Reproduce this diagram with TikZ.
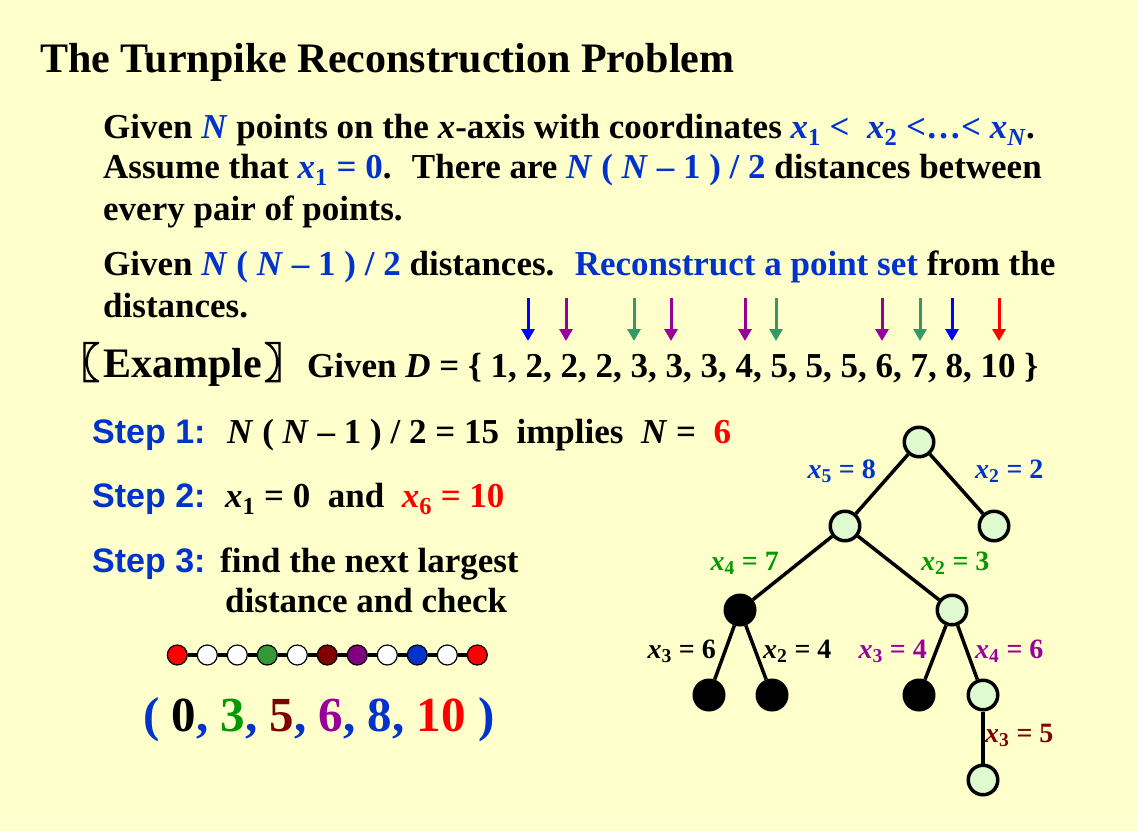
\documentclass[tikz,border=0pt]{standalone}
\usepackage{fontspec}
\setmainfont{Liberation Serif}
\newfontfamily\arialf{Liberation Sans}
\newfontfamily\cjkf[FakeBold=3]{Noto Sans CJK SC}
\usetikzlibrary{arrows.meta}
\definecolor{bg}{RGB}{255,255,204}
\definecolor{tblue}{RGB}{0,51,204}
\definecolor{tgreen}{RGB}{0,153,0}
\definecolor{agreen}{RGB}{51,153,102}
\definecolor{tpurple}{RGB}{153,0,153}
\definecolor{tdred}{RGB}{128,0,0}
\definecolor{tred}{RGB}{255,0,0}
\definecolor{ablue}{RGB}{0,0,255}
\definecolor{dgreen}{RGB}{51,153,51}
\definecolor{dblue}{RGB}{0,51,204}
\definecolor{dpurple}{RGB}{128,0,128}
\definecolor{nodefill}{RGB}{224,250,208}
\newcommand\bl[1]{\textcolor{tblue}{#1}}
\newcommand\sbs[1]{\textsubscript{#1}}
\newcommand\ix{\textit{x}}
\newcommand\iN{\textit{N}}
\begin{document}
\begin{tikzpicture}[x=1pt,y=-1pt,
  txt/.style={anchor=base west,inner sep=0pt,font=\bfseries\fontsize{35}{40}\selectfont},
  steplab/.style={anchor=base west,inner sep=0pt,text=tblue,font=\arialf\bfseries\fontsize{34}{40}\selectfont},
  lab/.style={inner sep=0pt,font=\bfseries\fontsize{28}{32}\selectfont},
  tn/.style={circle,draw=black,line width=3.5pt,fill=nodefill,minimum size=29.5pt,inner sep=0pt},
  bn/.style={tn,fill=black},
  edge/.style={line width=3.5pt,black},
  brk/.style={inner sep=0pt,font=\cjkf\fontsize{42}{46}\selectfont},
  dn/.style={circle,draw=black,line width=1.2pt,minimum size=20pt,inner sep=0pt},
  arr/.style={line width=3pt,-{Triangle[width=13pt,length=12pt]}}]
\useasboundingbox (0,0) rectangle (1137,831);
\fill[bg] (0,0) rectangle (1137,831);

% title
\node[anchor=base west,inner sep=0pt,font=\bfseries\fontsize{42}{48}\selectfont] (title) at (40,72) {The Turnpike Reconstruction Problem};

% body
\node[txt] (l1) at (103,138) {Given \bl{\iN} points on the \ix-axis with coordinates \bl{\ix\sbs{1} <~ \ix\sbs{2} <…< \ix\sbs{\textit{N}}}.};
\node[txt] (l2) at (103,178) {Assume that \bl{\ix\sbs{1} = 0}.~ There are \bl{\iN\ ( \iN\ – 1 ) / 2} distances between};
\node[txt] (l3) at (103,220) {every pair of points.};
\node[txt] (l4) at (103,275) {Given \bl{\iN\ ( \iN\ – 1 ) / 2} distances.~ \bl{Reconstruct a point set} from the};
\node[txt] (l5) at (103,317) {distances.};

% example
\node[brk,anchor=base east] (lb) at (100,378) {〖};
\node[anchor=base west,inner sep=0pt,font=\bfseries\fontsize{42}{46}\selectfont] (ex) at (103,377) {Example};
\node[brk,anchor=base west] (rb) at (264,378) {〗};
\node[txt] (given) at (307,377) {Given \textit{D} = \{ 1, 2, 2, 2, 3, 3, 3, 4, 5, 5, 5, 6, 7, 8, 10 \}};

% arrows
\foreach \i/\xx/\cc in {1/528/ablue,2/566/tpurple,3/634/agreen,4/671/tpurple,5/745/tpurple,6/776/agreen,7/882/tpurple,8/920/agreen,9/952/ablue,10/999/tred}{
  \coordinate (as\i) at (\xx,298);
  \coordinate (ae\i) at (\xx,341);
  \draw[arr,\cc] (as\i) -- (ae\i);
}

% steps
\node[steplab] (s1) at (92,443) {Step 1:};
\node[txt] (s1t) at (227,443) {\iN\ ( \iN\ – 1 ) / 2 = 15 ~implies ~\iN\ = ~\textcolor{tred}{6}};
\node[steplab] (s2) at (92,507) {Step 2:};
\node[txt] (s2t) at (225,507) {\ix\sbs{1} = 0 ~and ~\textcolor{tred}{\ix\sbs{6} = 10}};
\node[steplab] (s3) at (92,572) {Step 3:};
\node[txt] (s3t) at (220,572) {find the next largest};
\node[txt] (s3u) at (225,612) {distance and check};

% dotted line
\foreach \i/\cc in {1/tred,2/white,3/white,4/dgreen,5/white,6/tdred,7/dpurple,8/white,9/dblue,10/white,11/tred}{
  \node[dn,fill=\cc] (d\i) at ({177.3+30*(\i-1)},655) {};
}
\foreach \i [evaluate=\i as \j using int(\i+1)] in {1,...,10}{
  \draw[line width=4pt] (d\i) -- (d\j);
}

% result
\node[anchor=base west,inner sep=0pt,font=\bfseries\fontsize{49}{54}\selectfont] (res) at (143,731)
 {\bl{(} 0\bl{,} \textcolor{tgreen}{3}\bl{,} \textcolor{tdred}{5}\bl{,} \textcolor{tpurple}{6}\bl{,} \bl{8,} \textcolor{tred}{10} \bl{)}};

% tree
\node[tn] (r) at (919,442) {};
\node[tn] (a) at (845,526) {};
\node[tn] (b) at (994,526) {};
\node[bn] (c) at (740,610) {};
\node[tn] (d) at (952,610) {};
\node[bn] (e) at (709,695) {};
\node[bn] (f) at (772,695) {};
\node[bn] (g) at (919,695) {};
\node[tn] (h) at (983,695) {};
\node[tn] (i) at (983,780) {};
\draw[edge] (r) -- (a);
\draw[edge] (r) -- (b);
\draw[edge] (a) -- (c);
\draw[edge] (a) -- (d);
\draw[edge] (c) -- (e);
\draw[edge] (c) -- (f);
\draw[edge] (d) -- (g);
\draw[edge] (d) -- (h);
\draw[edge] (h) -- (i);

\node[lab,anchor=base east,text=tblue] (t1) at (876,478) {\ix\sbs{5} = 8};
\node[lab,anchor=base west,text=tblue] (t2) at (975,478) {\ix\sbs{2} = 2};
\node[lab,anchor=base east,text=tgreen] (t3) at (779,570) {\ix\sbs{4} = 7};
\node[lab,anchor=base west,text=tgreen] (t4) at (921,570) {\ix\sbs{2} = 3};
\node[lab,anchor=base east,text=black] (t5) at (716,658) {\ix\sbs{3} = 6};
\node[lab,anchor=base west,text=black] (t6) at (763,658) {\ix\sbs{2} = 4};
\node[lab,anchor=base east,text=tpurple] (t7) at (927,658) {\ix\sbs{3} = 4};
\node[lab,anchor=base west,text=tpurple] (t8) at (975,658) {\ix\sbs{4} = 6};
\node[lab,anchor=base west,text=tdred] (t9) at (985,742) {\ix\sbs{3} = 5};
\end{tikzpicture}
\end{document}
